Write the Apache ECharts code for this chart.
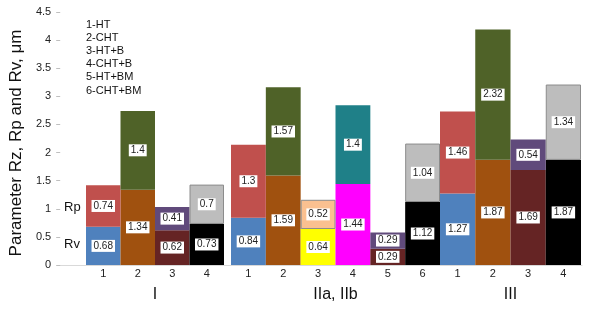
<!DOCTYPE html>
<html>
<head>
<meta charset="utf-8">
<script src="https://cdn.jsdelivr.net/npm/echarts@6/dist/echarts.min.js"></script>
<style>
html,body{margin:0;padding:0;background:#fff;}
#chart{width:606px;height:323px;}
</style>
</head>
<body>
<div id="chart"></div>
<script>
// ---- data ----
var groupNames = ['I', 'IIa, IIb', 'III'];
var catsI = ['1', '2', '3', '4'];
var catsII = ['1', '2', '3', '4', '5', '6'];
var catsIII = ['1', '2', '3', '4'];
var rvI = [0.68, 1.34, 0.62, 0.73];
var rpI = [0.74, 1.4, 0.41, 0.7];
var rvII = [0.84, 1.59, 0.64, 1.44, 0.29, 1.12];
var rpII = [1.3, 1.57, 0.52, 1.4, 0.29, 1.04];
var rvIII = [1.27, 1.87, 1.69, 1.87];
var rpIII = [1.46, 2.32, 0.54, 1.34];
var legendLines = ['1-HT', '2-CHT', '3-HT+B', '4-CHT+B', '5-HT+BM', '6-CHT+BM'];
var yAxisName = 'Parameter Rz, Rp and Rv, \u03bcm';
var partNames = ['Rp', 'Rv'];
var yMin = 0, yMax = 4.5, yStep = 0.5;

// ---- styles ----
var BLUE = '#4f81bd', RED = '#c0504d', BROWN = '#a0510f', OLIVE = '#4f6228',
    MAROON = '#652424', PURPLE = '#604a7b', BLACK = '#000000', GRAY = '#bdbdbd',
    YELLOW = '#ffff00', PEACH = '#fac090', MAGENTA = '#ff00ff', TEAL = '#1f8088';
var rvColI = [BLUE, BROWN, MAROON, BLACK];
var rpColI = [RED, OLIVE, PURPLE, GRAY];
var rvColII = [BLUE, BROWN, YELLOW, MAGENTA, MAROON, BLACK];
var rpColII = [RED, OLIVE, PEACH, TEAL, PURPLE, GRAY];
var rvColIII = [BLUE, BROWN, MAROON, BLACK];
var rpColIII = [RED, OLIVE, PURPLE, GRAY];

var FONT = 'Liberation Sans, Arial, sans-serif';
var TOP = 12, BOTTOM = 58;
var grids = [
  {left: 58, right: 24, top: TOP, bottom: BOTTOM},
  {left: 86, width: 138, top: TOP, bottom: BOTTOM},
  {left: 231, width: 209, top: TOP, bottom: BOTTOM},
  {left: 440, width: 141, top: TOP, bottom: BOTTOM}
];

var xAxes = [{
  gridIndex: 0, type: 'category', data: [''],
  axisLine: {show: true, lineStyle: {color: '#d9d9d9', width: 1}},
  axisTick: {show: false}, axisLabel: {show: false}
}];
var yAxes = [{
  gridIndex: 0, type: 'value', min: yMin, max: yMax, interval: yStep,
  splitLine: {show: false},
  axisLine: {show: false},
  axisTick: {show: true, length: 4, lineStyle: {color: '#bfbfbf'}},
  axisLabel: {fontSize: 11, color: '#222', margin: 9, fontFamily: FONT},
  name: yAxisName, nameLocation: 'middle', nameGap: 35, nameRotate: 90,
  nameTextStyle: {fontSize: 17, color: '#111', fontFamily: FONT, padding: [0, 9, 0, 0]}
}];

var groupCats = [catsI, catsII, catsIII];
var groupRv = [rvI, rvII, rvIII];
var groupRp = [rpI, rpII, rpIII];
var groupRvCol = [rvColI, rvColII, rvColIII];
var groupRpCol = [rpColI, rpColII, rpColIII];

var labelStyle = {
  show: true, position: 'inside', backgroundColor: '#ffffff', color: '#222',
  fontSize: 10, padding: [1, 2, 1, 2], fontFamily: FONT
};

function items(vals, cols) {
  return vals.map(function (v, i) {
    var c = cols[i];
    var st = {color: c};
    if (c === GRAY || c === PEACH) { st.borderColor = '#8c8c8c'; st.borderWidth = 1; }
    return {value: v, itemStyle: st};
  });
}

var series = [];
for (var g = 0; g < 3; g++) {
  var gi = g + 1;
  xAxes.push({
    gridIndex: gi, type: 'category', data: groupCats[g],
    axisLine: {show: false}, axisTick: {show: false},
    axisLabel: {fontSize: 11, color: '#222', margin: 3, fontFamily: FONT},
    name: groupNames[g], nameLocation: 'middle', nameGap: 22,
    nameTextStyle: {fontSize: 16, color: '#111', fontFamily: FONT}
  });
  yAxes.push({gridIndex: gi, type: 'value', min: yMin, max: yMax, interval: yStep, show: false});
  series.push({
    type: 'bar', name: partNames[1], xAxisIndex: gi, yAxisIndex: gi, stack: 's' + g,
    barCategoryGap: '0%', data: items(groupRv[g], groupRvCol[g]), label: labelStyle
  });
  series.push({
    type: 'bar', name: partNames[0], xAxisIndex: gi, yAxisIndex: gi, stack: 's' + g,
    barCategoryGap: '0%', data: items(groupRp[g], groupRpCol[g]), label: labelStyle
  });
}

var chart = echarts.init(document.getElementById('chart'), null, {renderer: 'canvas'});
chart.setOption({
  animation: false,
  backgroundColor: '#ffffff',
  grid: grids,
  xAxis: xAxes,
  yAxis: yAxes,
  series: series,
  graphic: [
    {type: 'text', left: 86, top: 18, z: 10,
     style: {text: legendLines.join('\n'), fontSize: 11, lineHeight: 13.2, fill: '#111', fontFamily: FONT}},
    {type: 'text', left: 64, top: 201, z: 10,
     style: {text: partNames[0], fontSize: 13, fill: '#111', fontFamily: FONT}},
    {type: 'text', left: 64, top: 238, z: 10,
     style: {text: partNames[1], fontSize: 13, fill: '#111', fontFamily: FONT}}
  ]
});
</script>
</body>
</html>
